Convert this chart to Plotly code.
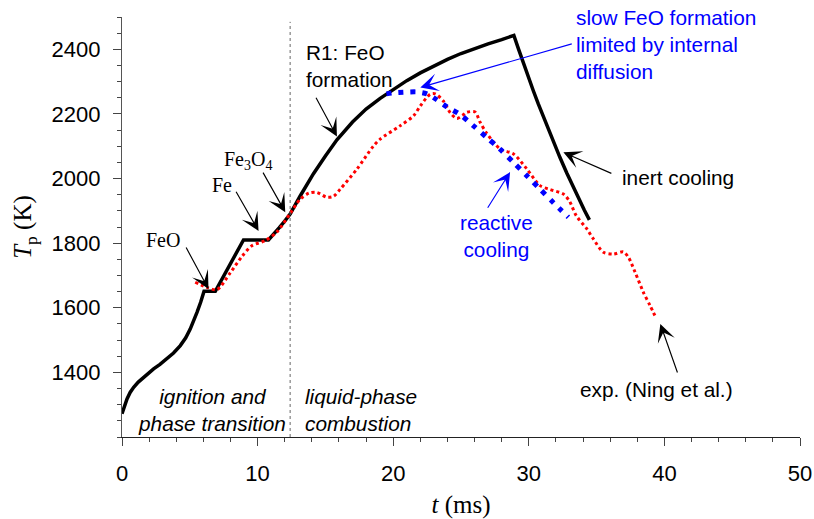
import plotly.graph_objects as go

# ---------------- data ----------------
# simulation, inert particle (black)
t_inert = [0, 0.2, 0.37, 0.6, 0.86, 1.2, 1.6, 2.0, 2.33, 2.8, 3.32, 3.8, 4.3, 4.7, 5.03,
           5.3, 5.53, 5.8, 6.05, 6.88, 7.9, 8.96, 10.8, 11.2, 11.6, 12.0, 12.4, 13.14,
           14.12, 15.0, 15.85, 17.0, 18.0, 19.04, 20.0, 21.0, 22.0, 23.0, 24.0, 25.0,
           26.0, 27.0, 28.0, 28.9, 29.25, 29.6, 30.0, 30.34, 30.7, 31.08, 31.45, 31.8,
           32.3, 32.8, 33.3, 33.78, 34.1, 34.47]
T_inert = [1272, 1300, 1318, 1338, 1354, 1370, 1385, 1399, 1411, 1425, 1442, 1460, 1483, 1507, 1534,
           1560, 1586, 1617, 1651, 1651, 1730, 1810, 1810, 1828, 1848, 1868, 1890, 1946,
           2015, 2070, 2120, 2175, 2215, 2248, 2276, 2303, 2327, 2349, 2369, 2387,
           2403, 2417, 2430, 2443, 2400, 2357, 2310, 2271, 2231, 2190, 2150, 2114,
           2065, 2017, 1971, 1929, 1902, 1872]

# simulation, reactive cooling (blue)
t_react = [19.5, 20.0, 20.76, 21.75, 22.48, 23.1, 23.96, 24.94, 25.92, 26.9, 27.9,
           28.87, 29.85, 30.83, 31.8, 32.92]
T_react = [2262, 2265, 2267, 2268, 2262, 2247, 2222, 2198, 2163, 2127, 2090,
           2050, 2009, 1967, 1926, 1880]

# experiment (Ning et al.), red
t_exp = [5.4, 6.26, 7.0, 7.98, 8.85, 9.58, 10.56, 11.43, 12.4, 13.14, 13.8, 14.37,
         15.11, 15.6, 16.09, 17.32, 18.55, 19.04, 20.5, 21.5, 22.0, 22.73, 23.1,
         23.7, 24.2, 24.7, 25.1, 25.43, 26.04, 26.4, 26.9, 27.9, 28.87, 29.85,
         30.83, 31.57, 32.55, 33.0, 33.5, 34.28, 34.76, 35.5, 36.24, 36.97, 37.35,
         37.84, 38.45, 38.94, 39.39]
T_exp = [1679, 1663, 1656, 1708, 1759, 1792, 1808, 1835, 1892, 1936, 1955, 1957,
         1942, 1945, 1967, 2029, 2101, 2122, 2163, 2194, 2225, 2261, 2262,
         2240, 2204, 2186, 2195, 2205, 2206, 2175, 2140, 2091, 2076, 2030,
         1978, 1966, 1952, 1930, 1885, 1844, 1813, 1772, 1766, 1773, 1756,
         1710, 1648, 1607, 1568]

x_ticks = [0, 10, 20, 30, 40, 50]
y_ticks = [1400, 1600, 1800, 2000, 2200, 2400]
t_phase_boundary = 12.4

SANS = "Liberation Sans, Arial, sans-serif"
SERIF = "Liberation Serif, Times New Roman, serif"
ANNO_SIZE = 20.8

fig = go.Figure()
fig.add_trace(go.Scatter(x=t_inert, y=T_inert, mode="lines",
                         line=dict(color="black", width=3.5), hoverinfo="skip"))
fig.add_trace(go.Scatter(x=t_exp, y=T_exp, mode="lines",
                         line=dict(color="#ff0000", width=3, dash="3px,3px",
                                   shape="spline", smoothing=0.8), hoverinfo="skip"))
fig.add_trace(go.Scatter(x=t_react, y=T_react, mode="lines",
                         line=dict(color="#0000ff", width=5, dash="5px,7px",
                                   shape="spline", smoothing=0.8), hoverinfo="skip"))

fig.add_shape(type="line", x0=t_phase_boundary, x1=t_phase_boundary, y0=1200, y1=2485,
              xref="x", yref="y", line=dict(color="#666666", width=1, dash="dot"))

annos = []

def text(x, y, s, color="black", font=SANS, size=ANNO_SIZE, xanchor="center", align="center", yanchor="middle"):
    annos.append(dict(x=x, y=y, xref="x", yref="y", text=s, showarrow=False,
                      font=dict(family=font, size=size, color=color),
                      xanchor=xanchor, yanchor=yanchor, align=align))

def arrow(tx, ty, hx, hy, color="black"):
    annos.append(dict(x=hx, y=hy, ax=tx, ay=ty, xref="x", yref="y", axref="x", ayref="y",
                      text="", showarrow=True, arrowhead=3, arrowsize=2.6, arrowwidth=1.15,
                      arrowcolor=color, standoff=0, startstandoff=0))

text(3.05, 1810, "FeO", font=SERIF, size=20)
arrow(4.67, 1791, 6.38, 1658)
text(7.4, 1980, "Fe", font=SERIF, size=20)
arrow(8.35, 1964, 10.07, 1838)
text(9.3, 2057, "Fe<sub>3</sub>O<sub>4</sub>", font=SERIF, size=20)
arrow(10.34, 2023, 12.04, 1896)

text(13.45, 2347, "R1: FeO<br>formation", xanchor="left", align="left")
arrow(14.25, 2255, 15.85, 2130)

text(33.3, 2415, "slow FeO formation<br>limited by internal<br>diffusion", color="#0000ff",
     xanchor="left", align="left")
arrow(33.28, 2418, 22.0, 2282, color="#0000ff")

text(27.6, 1822, "reactive<br>cooling", color="#0000ff")
arrow(26.9, 1905, 28.62, 2020, color="#0000ff")

text(36.7, 2004, "inert cooling", xanchor="left", align="left")
arrow(36.2, 2014, 32.55, 2081)

text(39.4, 1346, "exp. (Ning et al.)")
arrow(41.0, 1395, 39.7, 1550)

text(6.65, 1284, "<i>ignition and<br>phase transition</i>")
text(13.35, 1284, "<i>liquid-phase<br>combustion</i>", xanchor="left", align="left")

fig.update_layout(
    width=814, height=519,
    margin=dict(l=122, r=14, t=17, b=82),
    paper_bgcolor="white", plot_bgcolor="white",
    showlegend=False,
    annotations=annos,
    xaxis=dict(range=[0, 50], tickvals=x_ticks, showgrid=False, zeroline=False,
               automargin=False,
               showline=True, linecolor="#222", linewidth=1.2,
               ticks="outside", ticklen=8, tickcolor="#444", tickwidth=1,
               tickfont=dict(family=SANS, size=22, color="black"),
               ticklabelstandoff=8,
               minor=dict(dtick=2, tick0=0, ticks="outside", ticklen=4, tickcolor="#444"),
               title=dict(text="<i>t</i> (ms)", font=dict(family=SERIF, size=25, color="black"),
                          standoff=12)),
    yaxis=dict(range=[1200, 2500], tickvals=y_ticks, showgrid=False, zeroline=False,
               automargin=False,
               showline=True, linecolor="#555", linewidth=1.2,
               ticks="outside", ticklen=8, tickcolor="#444", tickwidth=1,
               tickfont=dict(family=SANS, size=22, color="black"),
               ticklabelstandoff=8,
               minor=dict(dtick=50, tick0=1200, ticks="outside", ticklen=4, tickcolor="#444"),
               title=dict(text="<i>T</i><sub>p</sub> (K)", font=dict(family=SERIF, size=25, color="black"),
                          standoff=12)),
)

fig.write_html("out.html")
